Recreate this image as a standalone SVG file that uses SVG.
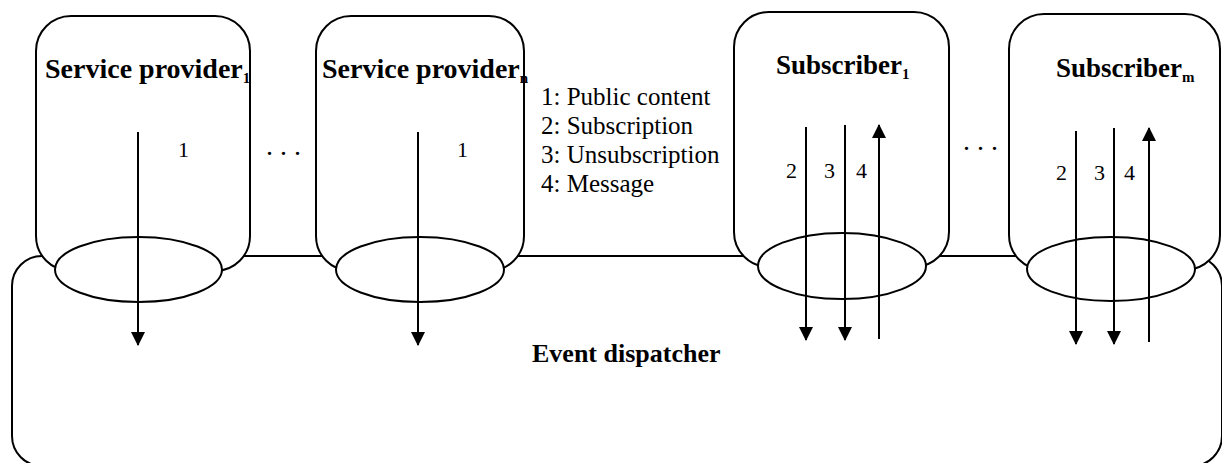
<svg xmlns="http://www.w3.org/2000/svg" width="1222" height="463" viewBox="0 0 1222 463">
<style>
.shape{fill:#fff;stroke:#000;stroke-width:2}
.title{font-family:"Liberation Serif","Times New Roman",serif;font-weight:bold;font-size:27px;fill:#000}
.sub{font-size:15px}
.lbl{font-family:"Liberation Serif","Times New Roman",serif;font-size:22px;fill:#000}
.dots{font-family:"Liberation Serif","Times New Roman",serif;font-size:28px;fill:#000}
.legend{font-family:"Liberation Serif","Times New Roman",serif;font-size:25px;fill:#000}
.arr{stroke:#000;stroke-width:2;fill:none}
</style>
<defs>
<marker id="ah" markerUnits="userSpaceOnUse" markerWidth="14" markerHeight="14" refX="13" refY="7" orient="auto">
<path d="M0,0 L14,7 L0,14 z" fill="#000"/>
</marker>
</defs>
<rect width="1222" height="463" fill="#fff"/>
<g id="event-dispatcher">
<rect class="shape" x="12" y="256" width="1210" height="210" rx="30"/>
<text class="title" x="532" y="362" style="font-size:26px">Event dispatcher</text>
</g>
<g id="service-provider-1">
<rect class="shape" x="36" y="16" width="214" height="255" rx="35"/>
<ellipse class="shape" cx="138.5" cy="269.5" rx="83.5" ry="32.5"/>
<text class="title" x="45" y="78" style="font-size:28px">Service provider<tspan class="sub" dy="5">1</tspan></text>
<text class="lbl" x="178" y="157">1</text>
</g>
<g id="service-provider-n">
<rect class="shape" x="316" y="16" width="208" height="255" rx="35"/>
<ellipse class="shape" cx="420" cy="269.5" rx="84" ry="32.5"/>
<text class="title" x="322" y="78" style="font-size:28px">Service provider<tspan class="sub" dy="5">n</tspan></text>
<text class="lbl" x="457" y="157">1</text>
</g>
<g id="legend">
<text class="legend" x="541" y="105">1: Public content</text>
<text class="legend" x="541" y="134">2: Subscription</text>
<text class="legend" x="541" y="163">3: Unsubscription</text>
<text class="legend" x="541" y="192">4: Message</text>
</g>
<g id="subscriber-1">
<rect class="shape" x="734" y="12" width="215" height="255" rx="35"/>
<ellipse class="shape" cx="842" cy="266" rx="84" ry="33"/>
<text class="title" x="776" y="74">Subscriber<tspan class="sub" dy="5">1</tspan></text>
<text class="lbl" x="786" y="178">2</text>
<text class="lbl" x="824" y="178">3</text>
<text class="lbl" x="856" y="178">4</text>
</g>
<g id="subscriber-m">
<rect class="shape" x="1009" y="14" width="211" height="256" rx="35"/>
<ellipse class="shape" cx="1111" cy="269" rx="84" ry="32"/>
<text class="title" x="1056" y="77">Subscriber<tspan class="sub" dy="5">m</tspan></text>
<text class="lbl" x="1056" y="180">2</text>
<text class="lbl" x="1094" y="180">3</text>
<text class="lbl" x="1124" y="180">4</text>
</g>
<g id="ellipsis">
<text class="dots" x="266" y="155">. . .</text>
<text class="dots" x="963" y="150">. . .</text>
</g>
<g id="connectors">
<line class="arr" x1="138" y1="132" x2="138" y2="345" marker-end="url(#ah)"/>
<line class="arr" x1="418" y1="132" x2="418" y2="345" marker-end="url(#ah)"/>
<line class="arr" x1="806" y1="127" x2="806" y2="340" marker-end="url(#ah)"/>
<line class="arr" x1="845" y1="125" x2="845" y2="340" marker-end="url(#ah)"/>
<line class="arr" x1="879" y1="339" x2="879" y2="125" marker-end="url(#ah)"/>
<line class="arr" x1="1076" y1="131" x2="1076" y2="344" marker-end="url(#ah)"/>
<line class="arr" x1="1114" y1="128" x2="1114" y2="344" marker-end="url(#ah)"/>
<line class="arr" x1="1149" y1="342" x2="1149" y2="128" marker-end="url(#ah)"/>
</g>
</svg>
